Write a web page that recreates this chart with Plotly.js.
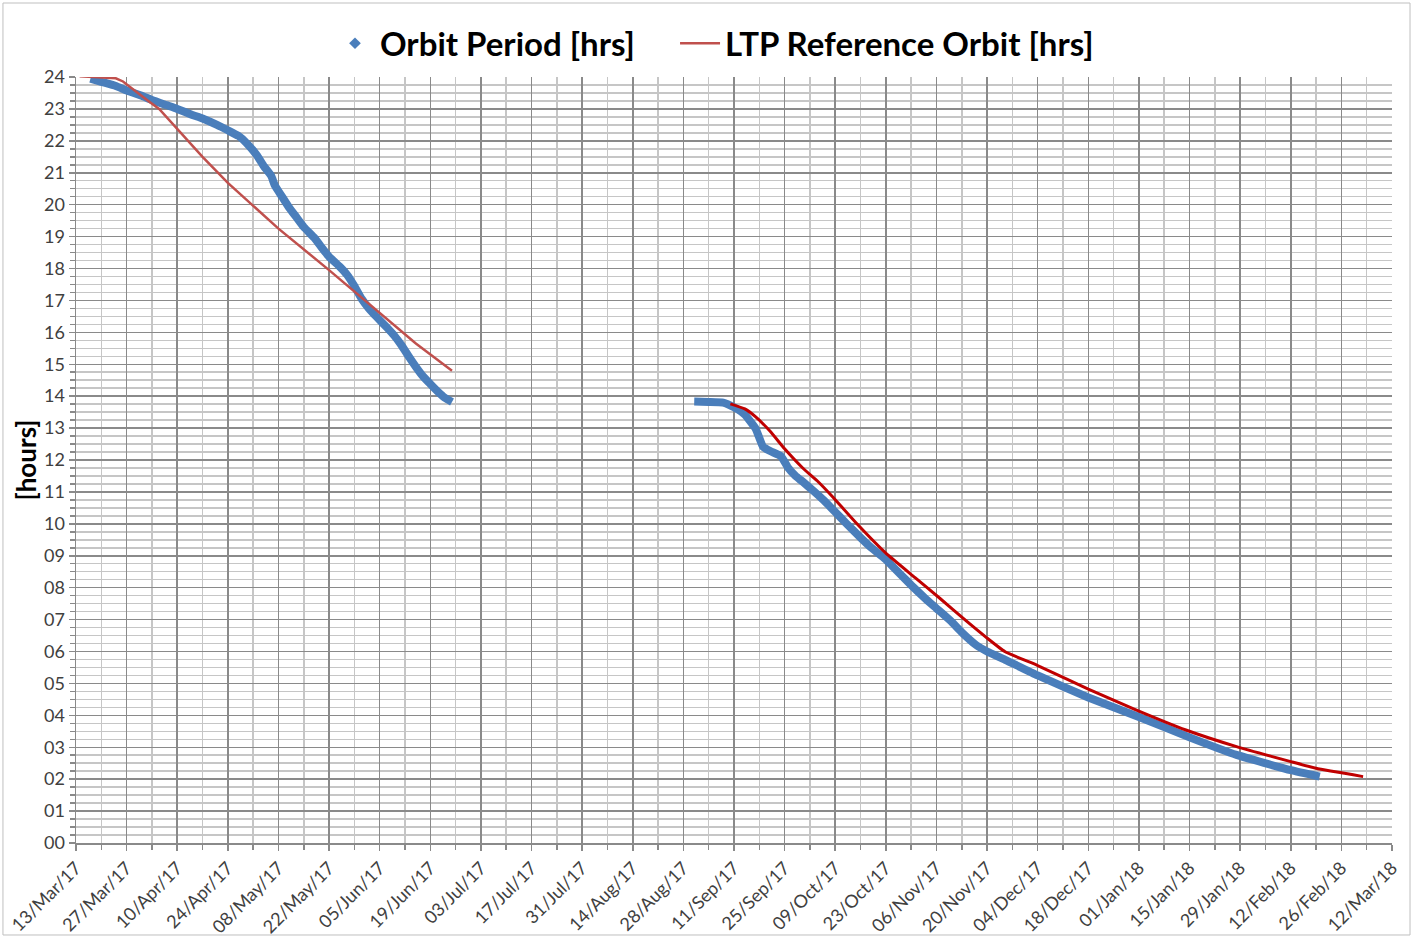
<!DOCTYPE html>
<html>
<head>
<meta charset="utf-8">
<script src="https://cdn.plot.ly/plotly-3.0.1.min.js"></script>
<style>html,body{margin:0;padding:0;background:#fff;}#chart{width:1413px;height:937px;}</style>
</head>
<body>
<div id="chart"></div>
<script>
// Orbit Period [hrs] — measured (two arcs, gap as null)
const orbitDates = [
  '2017-03-17','2017-03-20','2017-03-24','2017-03-27','2017-03-31','2017-04-03','2017-04-07','2017-04-10',
  '2017-04-14','2017-04-17','2017-04-21','2017-04-24','2017-04-27','2017-04-29','2017-05-02','2017-05-04',
  '2017-05-06','2017-05-07','2017-05-09','2017-05-11','2017-05-13','2017-05-15','2017-05-18','2017-05-20',
  '2017-05-22','2017-05-25','2017-05-27','2017-05-29','2017-05-31','2017-06-02','2017-06-04','2017-06-07',
  '2017-06-09','2017-06-11','2017-06-13','2017-06-15','2017-06-17','2017-06-19','2017-06-21','2017-06-23',
  '2017-06-25',
  null,
  '2017-08-31','2017-09-04','2017-09-08','2017-09-11','2017-09-14','2017-09-17','2017-09-19','2017-09-21',
  '2017-09-24','2017-09-26','2017-09-28','2017-09-30','2017-10-03','2017-10-06','2017-10-09','2017-10-12',
  '2017-10-16','2017-10-19','2017-10-23','2017-10-27','2017-10-30','2017-11-03','2017-11-06','2017-11-10',
  '2017-11-13','2017-11-17','2017-11-20','2017-11-25','2017-12-04','2017-12-18','2018-01-01','2018-01-15',
  '2018-01-28','2018-02-12','2018-02-20'
];
const orbitHours = [
  23.95,23.85,23.72,23.58,23.42,23.28,23.12,23.00,
  22.82,22.70,22.50,22.33,22.15,21.95,21.55,21.20,
  20.90,20.60,20.25,19.90,19.60,19.30,18.95,18.65,
  18.37,18.05,17.80,17.45,17.05,16.75,16.50,16.15,
  15.90,15.60,15.25,14.92,14.62,14.38,14.15,13.95,
  13.82,
  null,
  13.83,13.82,13.80,13.65,13.42,12.98,12.42,12.28,
  12.12,11.75,11.50,11.32,11.03,10.72,10.37,10.02,
  9.57,9.25,8.88,8.42,8.08,7.65,7.35,6.95,
  6.60,6.20,6.00,5.74,5.25,4.56,3.95,3.31,
  2.76,2.28,2.08
];

// LTP Reference Orbit [hrs] — first arc
const ltp1Dates = ['2017-03-14','2017-03-24','2017-03-26','2017-03-30','2017-04-02','2017-04-05','2017-04-10',
  '2017-04-17','2017-04-24','2017-05-01','2017-05-08','2017-05-22','2017-06-05','2017-06-15','2017-06-25'];
const ltp1Hours = [24.02,23.96,23.86,23.50,23.25,23.00,22.38,21.50,20.68,19.95,19.25,17.95,16.60,15.65,14.80];

// LTP Reference Orbit [hrs] — second arc
const ltp2Dates = ['2017-09-10','2017-09-14','2017-09-17','2017-09-21','2017-09-25','2017-09-30','2017-10-04',
  '2017-10-08','2017-10-15','2017-10-23','2017-10-31','2017-11-07','2017-11-14','2017-11-20','2017-11-25',
  '2017-12-04','2017-12-18','2017-12-31','2018-01-14','2018-01-28','2018-02-12','2018-02-19','2018-03-04'];
const ltp2Hours = [13.76,13.60,13.35,12.90,12.35,11.75,11.35,10.88,10.00,9.08,8.32,7.66,6.98,6.42,5.99,
  5.56,4.82,4.18,3.54,3.02,2.55,2.34,2.08];

const axisStart = '2017-03-13';
const axisEnd = '2018-03-12';

const DAY = 86400000;
const FONT = 'Lato, Carlito, Calibri, "Open Sans", sans-serif';
const BLUE = '#4a7ebb';
const legendFont = {family:FONT, size:33, color:'#000000', weight:'bold'};

const traces = [
  {x:[null], y:[null], type:'scatter', mode:'markers', name:'Orbit Period [hrs]', legend:'legend',
   marker:{symbol:'diamond', size:9, color:BLUE}, hoverinfo:'skip'},
  {x:orbitDates, y:orbitHours, type:'scatter', mode:'lines', name:'Orbit Period [hrs]', showlegend:false,
   line:{color:BLUE, width:8, shape:'spline', smoothing:0.4}},
  {x:ltp1Dates, y:ltp1Hours, type:'scatter', mode:'lines', name:'LTP Reference Orbit [hrs]', legend:'legend2',
   line:{color:'#c0504d', width:2.5}},
  {x:ltp2Dates, y:ltp2Hours, type:'scatter', mode:'lines', name:'LTP Reference Orbit [hrs]', showlegend:false,
   line:{color:'#c00000', width:3, shape:'spline', smoothing:0.4}}
];

const layout = {
  width:1413, height:937,
  margin:{l:76, r:21, t:77, b:94},
  paper_bgcolor:'#ffffff', plot_bgcolor:'#ffffff',
  font:{family:FONT, color:'#404040', size:18},
  showlegend:true,
  legend:{orientation:'h', x:0.193, xanchor:'left', y:1.044, yanchor:'middle',
    font:legendFont, bgcolor:'rgba(0,0,0,0)', itemwidth:40},
  legend2:{orientation:'h', x:0.4552, xanchor:'left', y:1.044, yanchor:'middle',
    font:legendFont, bgcolor:'rgba(0,0,0,0)', itemwidth:40},
  xaxis:{
    type:'date', range:[axisStart, axisEnd], tick0:axisStart, dtick:14*DAY,
    tickformat:'%d/%b/%y', tickangle:-45, tickfont:{size:18, color:'#404040'},
    showgrid:true, gridcolor:'#8a8a8a', gridwidth:1.5,
    showline:true, linecolor:'#8a8a8a', linewidth:1.5,
    ticks:'outside', ticklen:6, tickcolor:'#8a8a8a', tickwidth:1.5,
    minor:{dtick:7*DAY, tick0:axisStart, showgrid:true, gridcolor:'#c6c6c6', gridwidth:1.5,
      ticks:'outside', ticklen:5, tickcolor:'#8a8a8a', tickwidth:1.5},
    zeroline:false, fixedrange:true
  },
  yaxis:{
    range:[0,24], tick0:0, dtick:1, tickformat:'02d', tickfont:{size:18, color:'#404040'},
    showgrid:true, gridcolor:'#8a8a8a', gridwidth:1.5,
    showline:true, linecolor:'#8a8a8a', linewidth:1.5,
    ticks:'outside', ticklen:6, tickcolor:'#8a8a8a', tickwidth:1.5,
    minor:{dtick:0.25, tick0:0, showgrid:true, gridcolor:'#c6c6c6', gridwidth:1.5,
      ticks:'outside', ticklen:5, tickcolor:'#8a8a8a', tickwidth:1.5},
    title:{text:'[hours]', font:{family:FONT, size:26, color:'#000000', weight:'bold'}, standoff:0},
    zeroline:false, fixedrange:true
  },
  shapes:[
    {type:'rect', xref:'paper', yref:'paper', x0:-0.0555, x1:1.0137, y0:-0.1201, y1:1.0966,
     line:{color:'#bfbfbf', width:1}, fillcolor:'rgba(0,0,0,0)', layer:'below'}
  ]
};

Plotly.newPlot('chart', traces, layout, {displayModeBar:false, staticPlot:true});
</script>
</body>
</html>
